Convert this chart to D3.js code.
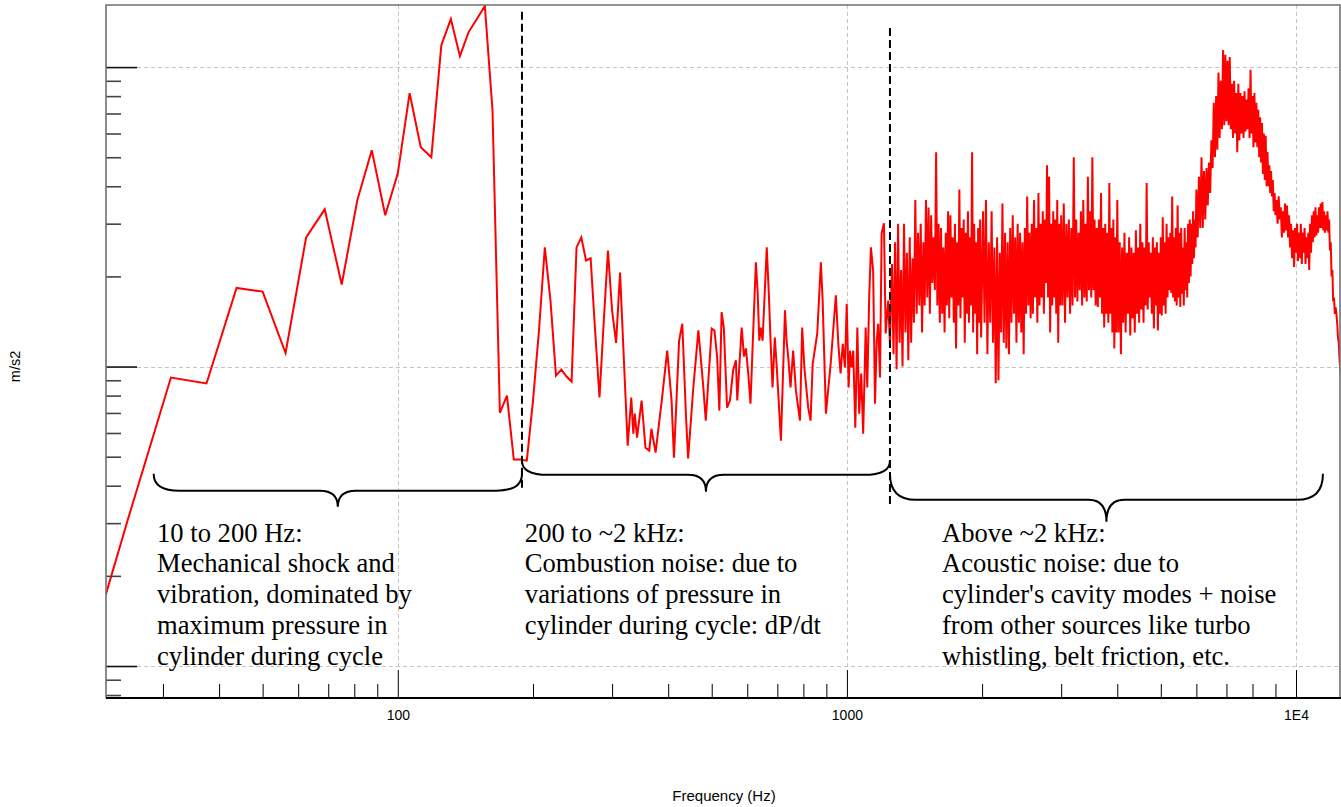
<!DOCTYPE html>
<html>
<head>
<meta charset="utf-8">
<script src="https://cdn.jsdelivr.net/npm/d3@7"></script>
<style>
  body { margin: 0; background: #fff; }
  svg { display: block; }
</style>
</head>
<body>
<div id="chart"></div>
<script>
/* global d3 */

// Spectrum, frequency in Hz
const freqHz = [
  18.75, 25, 31.25, 37.5, 43.75, 50, 56.25, 62.5, 68.75, 75,
  81.25, 87.5, 93.75, 100, 106.25, 112.5, 118.75, 125, 131.25, 137.5,
  143.75, 150, 156.25, 162.5, 168.75, 175, 181.25, 187.5, 193.75, 200,
  206.25, 212.5, 218.75, 225, 231.25, 237.5, 243.75, 250, 256.25, 262.5,
  268.75, 275, 281.25, 287.5, 293.75, 300, 306.25, 312.5, 318.75, 325,
  331, 334.5, 337, 341, 349, 356, 363, 367, 375, 387,
  398, 407, 412, 423, 430, 438, 443, 455, 467, 479,
  485, 500, 507, 514, 520, 526, 532, 541, 549, 558,
  566, 570, 583, 590, 596, 603, 610, 617, 627, 633,
  638, 643, 649, 663, 670, 676, 683, 691, 698, 713,
  728, 734, 740, 749, 759, 770, 786, 795, 804, 820,
  830, 839, 859, 875, 883, 898, 920, 945, 957, 968,
  979, 990, 999, 1009, 1016, 1024, 1033, 1044, 1055, 1065,
  1076, 1087, 1101, 1110, 1121, 1131, 1144, 1155, 1165, 1174,
  1185, 1195, 1209, 1220, 1236, 1247,
  1260, 1270, 1280, 1290, 1300, 1310, 1320, 1330, 1340, 1350,
  1360, 1370, 1380, 1390, 1400, 1410, 1420, 1430, 1440, 1450,
  1460, 1470, 1480, 1490, 1500, 1510, 1520, 1530, 1540, 1550,
  1560, 1570, 1580, 1590, 1600, 1610, 1620, 1630, 1640, 1650,
  1660, 1670, 1680, 1690, 1700, 1710, 1720, 1730, 1740, 1750,
  1760, 1770, 1780, 1790, 1800, 1810, 1820, 1830, 1840, 1850,
  1860, 1870, 1880, 1890, 1900, 1910, 1920, 1930, 1940, 1950,
  1960, 1970, 1980, 1990,
  2010, 2025, 2040, 2055, 2070, 2085, 2100, 2115, 2130, 2145,
  2160, 2175, 2190, 2205, 2220, 2235, 2250, 2265, 2280, 2295,
  2310, 2325, 2340, 2355, 2370, 2385, 2400, 2415, 2430, 2445,
  2460, 2475, 2490, 2505, 2520, 2535, 2550, 2565, 2580, 2595,
  2610, 2625, 2640, 2655, 2670, 2685, 2700, 2715, 2730, 2745,
  2760, 2775, 2790, 2805, 2820, 2835, 2850, 2865, 2880, 2895,
  2910, 2925, 2940, 2955, 2970, 2985, 3000,
  3020, 3040, 3060, 3080, 3100, 3120, 3140, 3160, 3180, 3200,
  3220, 3240, 3260, 3280, 3300, 3320, 3340, 3360, 3380, 3400,
  3420, 3440, 3460, 3480, 3500, 3520, 3540, 3560, 3580, 3600,
  3620, 3640, 3660, 3680, 3700, 3720, 3740, 3760, 3780, 3800,
  3820, 3840, 3860, 3880, 3900, 3920, 3940, 3960, 3980, 4000,
  4025, 4050, 4075, 4100, 4125, 4150, 4175, 4200, 4225, 4250,
  4275, 4300, 4325, 4350, 4375, 4400, 4425, 4450, 4475, 4500,
  4525, 4550, 4575, 4600, 4625, 4650, 4675, 4700, 4725, 4750,
  4775, 4800, 4825, 4850, 4875, 4900, 4925, 4950, 4975, 5000,
  5025, 5050, 5075, 5100, 5125, 5150, 5175, 5200, 5225, 5250,
  5275, 5300, 5325, 5350, 5375, 5400, 5425, 5450, 5475, 5500,
  5525, 5550, 5575, 5600, 5625, 5650, 5675, 5700, 5725, 5750,
  5775, 5800, 5825, 5850, 5875, 5900, 5925, 5950, 5975, 6000,
  6040, 6080, 6120, 6160, 6200, 6240, 6280, 6320, 6360, 6400,
  6440, 6480, 6520, 6560, 6600, 6640, 6680, 6720, 6760, 6800,
  6840, 6880, 6920, 6960, 7000, 7040, 7080, 7120, 7160, 7200,
  7240, 7280, 7320, 7360, 7400, 7440, 7480, 7520, 7560, 7600,
  7640, 7680, 7720, 7760, 7800, 7840, 7880, 7920, 7960, 8000,
  8040, 8080, 8120, 8160, 8200, 8240, 8280, 8320, 8360, 8400,
  8440, 8480, 8520, 8560, 8600, 8640, 8680, 8720, 8760, 8800,
  8840, 8880, 8920, 8960, 9000,
  9050, 9100, 9150, 9200, 9250, 9300, 9350, 9400, 9450, 9500,
  9550, 9600, 9650, 9700, 9750, 9800, 9850, 9900, 9950, 10000,
  10050, 10100, 10150, 10200, 10250, 10300, 10350, 10400, 10450, 10500,
  10550, 10600, 10650, 10700, 10750, 10800, 10850, 10900, 10950, 11000,
  11050, 11100, 11150, 11200, 11250, 11300, 11350, 11400, 11450, 11500,
  11550, 11600, 11650, 11700, 11750, 11800, 11850, 11900, 11950, 12000,
  12050, 12100, 12150, 12200, 12250, 12300, 12350, 12400, 12450, 12500,
  12550, 12600
]

// Acceleration, m/s2
const accel = [
  0.00702, 0.0305, 0.0919, 0.0878, 0.183, 0.178, 0.111, 0.270, 0.335, 0.188,
  0.359, 0.528, 0.320, 0.442, 0.818, 0.540, 0.500, 1.184, 1.447, 1.088,
  1.309, 1.447, 1.600, 0.718, 0.0701, 0.0800, 0.0489, 0.0489, 0.0485, 0.0770,
  0.132, 0.250, 0.166, 0.0933, 0.0977, 0.0926, 0.0891, 0.250, 0.270, 0.226,
  0.230, 0.132, 0.0788, 0.142, 0.244, 0.154, 0.120, 0.206, 0.105, 0.0544,
  0.0788, 0.0597, 0.0696, 0.0579, 0.0770, 0.0536, 0.0524, 0.0620, 0.0516, 0.0770,
  0.113, 0.0770, 0.0496, 0.122, 0.139, 0.0696, 0.0493, 0.0851, 0.132, 0.0851,
  0.0660, 0.134, 0.132, 0.108, 0.0712, 0.152, 0.135, 0.0729, 0.0770, 0.0970,
  0.105, 0.0770, 0.135, 0.108, 0.115, 0.0948, 0.0752, 0.119, 0.223, 0.176,
  0.122, 0.135, 0.122, 0.250, 0.176, 0.122, 0.0851, 0.125, 0.0993, 0.0565,
  0.154, 0.122, 0.108, 0.0851, 0.113, 0.0831, 0.0660, 0.135, 0.0993, 0.0729,
  0.0660, 0.102, 0.129, 0.223, 0.166, 0.0696, 0.102, 0.173, 0.119, 0.0948,
  0.119, 0.0993, 0.162, 0.0851, 0.113, 0.0993, 0.113, 0.0625, 0.135, 0.0696,
  0.0948, 0.0597, 0.135, 0.0851, 0.170, 0.250, 0.209, 0.0752, 0.122, 0.139,
  0.0919, 0.279, 0.301, 0.129, 0.166, 0.119,
  0.22, 0.11, 0.26, 0.098, 0.30, 0.12, 0.21, 0.10, 0.30, 0.13,
  0.24, 0.105, 0.27, 0.12, 0.23, 0.14, 0.36, 0.15, 0.28, 0.16,
  0.30, 0.13, 0.26, 0.16, 0.36, 0.17, 0.34, 0.15, 0.32, 0.19,
  0.27, 0.18, 0.52, 0.16, 0.30, 0.14, 0.29, 0.15, 0.25, 0.13,
  0.28, 0.16, 0.33, 0.145, 0.32, 0.17, 0.27, 0.14, 0.30, 0.115,
  0.26, 0.16, 0.39, 0.145, 0.29, 0.17, 0.31, 0.12, 0.28, 0.15,
  0.33, 0.14, 0.27, 0.16, 0.52, 0.13, 0.30, 0.15, 0.26, 0.11,
  0.29, 0.14, 0.31, 0.125,
  0.33, 0.14, 0.36, 0.11, 0.26, 0.14, 0.33, 0.12, 0.25, 0.088,
  0.27, 0.09, 0.24, 0.13, 0.35, 0.12, 0.28, 0.115, 0.26, 0.11,
  0.29, 0.14, 0.32, 0.15, 0.27, 0.12, 0.30, 0.14, 0.28, 0.13,
  0.26, 0.11, 0.29, 0.15, 0.37, 0.16, 0.28, 0.145, 0.30, 0.15,
  0.36, 0.17, 0.29, 0.14, 0.38, 0.16, 0.30, 0.17, 0.33, 0.15,
  0.31, 0.19, 0.47, 0.17, 0.43, 0.13, 0.30, 0.16, 0.33, 0.17,
  0.31, 0.15, 0.36, 0.12, 0.30, 0.16, 0.32,
  0.16, 0.35, 0.14, 0.30, 0.17, 0.31, 0.15, 0.29, 0.16, 0.50,
  0.17, 0.31, 0.165, 0.28, 0.18, 0.33, 0.16, 0.36, 0.17, 0.30,
  0.165, 0.43, 0.18, 0.33, 0.17, 0.50, 0.18, 0.31, 0.16, 0.29,
  0.158, 0.31, 0.17, 0.38, 0.15, 0.29, 0.135, 0.30, 0.15, 0.28,
  0.14, 0.41, 0.15, 0.29, 0.13, 0.31, 0.115, 0.27, 0.13, 0.36,
  0.13, 0.26, 0.11, 0.25, 0.14, 0.28, 0.13, 0.24, 0.15, 0.27,
  0.127, 0.25, 0.145, 0.24, 0.13, 0.285, 0.15, 0.25, 0.14, 0.30,
  0.155, 0.26, 0.14, 0.25, 0.16, 0.41, 0.155, 0.26, 0.17, 0.24,
  0.15, 0.27, 0.134, 0.25, 0.16, 0.26, 0.132, 0.24, 0.15, 0.27,
  0.148, 0.315, 0.16, 0.26, 0.15, 0.30, 0.17, 0.27, 0.18, 0.28,
  0.176, 0.37, 0.17, 0.27, 0.165, 0.29, 0.16, 0.345, 0.17, 0.28,
  0.158, 0.29, 0.175, 0.25, 0.16, 0.29, 0.18, 0.26, 0.17, 0.30,
  0.19, 0.31, 0.20, 0.30, 0.22, 0.33, 0.23, 0.31, 0.25, 0.39,
  0.27, 0.43, 0.29, 0.50, 0.29, 0.45, 0.31, 0.46, 0.345, 0.48,
  0.38, 0.57, 0.46, 0.76, 0.50, 0.80, 0.53, 0.96, 0.58, 0.90,
  0.62, 1.14, 0.64, 1.10, 0.66, 1.05, 0.64, 1.08, 0.62, 0.88,
  0.58, 0.90, 0.60, 0.82, 0.52, 0.88, 0.57, 0.82, 0.60, 0.80,
  0.58, 0.83, 0.61, 0.78, 0.62, 0.85, 0.58, 0.98, 0.60, 0.80,
  0.54, 0.82, 0.56, 0.76, 0.54, 0.72, 0.50, 0.68, 0.48, 0.65,
  0.44, 0.60, 0.42, 0.59, 0.40, 0.52, 0.40, 0.47, 0.38, 0.45,
  0.37, 0.42, 0.33, 0.38, 0.32,
  0.36, 0.30, 0.37, 0.31, 0.34, 0.27, 0.33, 0.28, 0.35, 0.285,
  0.345, 0.27, 0.32, 0.25, 0.30, 0.23, 0.285, 0.215, 0.29, 0.24,
  0.30, 0.225, 0.28, 0.23, 0.30, 0.22, 0.28, 0.24, 0.29, 0.22,
  0.27, 0.23, 0.28, 0.21, 0.30, 0.24, 0.32, 0.26, 0.33, 0.27,
  0.34, 0.274, 0.32, 0.28, 0.34, 0.29, 0.35, 0.29, 0.354, 0.285,
  0.33, 0.28, 0.32, 0.285, 0.33, 0.28, 0.31, 0.244, 0.26, 0.20,
  0.21, 0.165, 0.17, 0.15, 0.158, 0.15, 0.14, 0.125, 0.12, 0.105,
  0.098, 0.09
]

if (freqHz.length !== accel.length) throw new Error('length mismatch ' + freqHz.length + ' vs ' + accel.length)

// Axis ticks
const xMajorTicks = [100, 1000, 10000]
const xTickLabels = ['100', '1000', '1E4']
const yMajorTicks = [0.01, 0.1, 1]

// Band boundaries (dashed lines)
const boundaryHz = [189, 1247]
const boundaryTop = [1.53, 1.35]
const boundaryBottom = [0.0382, 0.0338]

// Braces under each band
const braceFromHz = [28.6, 189, 1247]
const braceToHz = [189, 1247, 11480]
const braceEndAccel = [0.0439, 0.0485, 0.0439]
const braceLineAccel = [0.0385, 0.0435, 0.0359]
const braceTipAccel = [0.0340, 0.0382, 0.0303]

// Notes
const noteHz = [29.1, 191.8, 1628]
const noteAccel = 0.026
const noteLines = [
  ['10 to 200 Hz:', 'Mechanical shock and', 'vibration, dominated by', 'maximum pressure in', 'cylinder during cycle'],
  ['200 to ~2 kHz:', 'Combustion noise: due to', 'variations of pressure in', 'cylinder during cycle: dP/dt'],
  ['Above ~2 kHz:', 'Acoustic noise: due to', "cylinder's cavity modes + noise", 'from other sources like turbo', 'whistling, belt friction, etc.']
]

// Our canvas
const width = 1341,
  height = 807,
  plotLeft = 106,
  plotRight = 1340,
  plotTop = 5,
  plotBottom = 698

const svg = d3.select('#chart')
  .append('svg')
  .attr('width', width)
  .attr('height', height)

svg.append('rect').attr('width', width).attr('height', height).attr('fill', '#fff')

const x = d3.scaleLog().domain([22.4, 12530]).range([plotLeft, plotRight])
const y = d3.scaleLog().domain([0.00782, 1.612]).range([plotBottom, plotTop])

// Grid
const grid = svg.append('g')
  .attr('stroke', '#c4c4c4')
  .attr('stroke-width', 1)
  .attr('stroke-dasharray', '4,3')
grid.selectAll('.hg')
  .data(yMajorTicks)
  .enter()
  .append('line')
  .attr('x1', plotLeft + 31)
  .attr('x2', plotRight)
  .attr('y1', d => Math.round(y(d)) + 0.5)
  .attr('y2', d => Math.round(y(d)) + 0.5)
grid.selectAll('.vg')
  .data(xMajorTicks)
  .enter()
  .append('line')
  .attr('x1', d => Math.round(x(d)) + 0.5)
  .attr('x2', d => Math.round(x(d)) + 0.5)
  .attr('y1', plotTop)
  .attr('y2', plotBottom - 28)

// Spectrum line
svg.append('clipPath').attr('id', 'clip')
  .append('rect')
  .attr('x', plotLeft).attr('y', plotTop)
  .attr('width', plotRight - plotLeft).attr('height', plotBottom - plotTop)

const points = freqHz.map((f, i) => [f, accel[i]])
const line = d3.line()
  .x(d => x(d[0]))
  .y(d => y(d[1]))

svg.append('path')
  .datum(points)
  .attr('clip-path', 'url(#clip)')
  .attr('fill', 'none')
  .attr('stroke', '#ff0000')
  .attr('stroke-width', 2)
  .attr('d', line)

// Dashed band boundaries
svg.selectAll('.boundary')
  .data(boundaryHz)
  .enter()
  .append('line')
  .attr('x1', d => x(d))
  .attr('x2', d => x(d))
  .attr('y1', (d, i) => y(boundaryTop[i]))
  .attr('y2', (d, i) => y(boundaryBottom[i]))
  .attr('stroke', '#000')
  .attr('stroke-width', 2)
  .attr('stroke-dasharray', '8,4')

// Braces
const bracePath = (i) => {
  const x0 = x(braceFromHz[i]), x1 = x(braceToHz[i])
  const ye = y(braceEndAccel[i]), yl = y(braceLineAccel[i]), yt = y(braceTipAccel[i])
  const xm = (x0 + x1) / 2
  const w = 26, wt = 18
  return `M${x0},${ye} Q${x0},${yl} ${x0 + w},${yl} L${xm - wt},${yl} Q${xm},${yl} ${xm},${yt}` +
    ` Q${xm},${yl} ${xm + wt},${yl} L${x1 - w},${yl} Q${x1},${yl} ${x1},${ye}`
}
svg.selectAll('.brace')
  .data(braceFromHz)
  .enter()
  .append('path')
  .attr('d', (d, i) => bracePath(i))
  .attr('fill', 'none')
  .attr('stroke', '#000')
  .attr('stroke-width', 2)

// Notes
noteLines.forEach((lines, i) => {
  const t = svg.append('text')
    .attr('x', x(noteHz[i]))
    .attr('y', y(noteAccel))
    .attr('font-family', '"Liberation Serif", "Times New Roman", serif')
    .attr('font-size', 26.6)
    .attr('fill', '#000')
  lines.forEach((s, j) => {
    t.append('tspan')
      .attr('x', x(noteHz[i]))
      .attr('dy', j === 0 ? 0 : 30.7)
      .text(s)
  })
})

// Axes
const xMinor = x.ticks().filter(d => !xMajorTicks.includes(d))
const yMinor = y.ticks().filter(d => !yMajorTicks.some(m => Math.abs(m - d) / m < 1e-6))

const xAxisMinor = svg.append('g')
  .attr('transform', `translate(0,${plotBottom})`)
  .call(d3.axisBottom(x).tickValues(xMinor).tickSize(-14).tickFormat(''))
const xAxisMajor = svg.append('g')
  .attr('transform', `translate(0,${plotBottom})`)
  .call(d3.axisBottom(x).tickValues(xMajorTicks).tickSize(-28).tickPadding(12)
    .tickFormat((d, i) => xTickLabels[i]))

const yAxisMinor = svg.append('g')
  .attr('transform', `translate(${plotLeft},0)`)
  .call(d3.axisRight(y).tickValues(yMinor).tickSize(15).tickFormat(''))
const yAxisMajor = svg.append('g')
  .attr('transform', `translate(${plotLeft},0)`)
  .call(d3.axisRight(y).tickValues(yMajorTicks).tickSize(31).tickFormat(''))

;[xAxisMinor, xAxisMajor, yAxisMinor, yAxisMajor].forEach(g => g.select('.domain').remove())
xAxisMinor.selectAll('line').attr('stroke', '#000')
xAxisMajor.selectAll('line').attr('stroke', '#000')
yAxisMinor.selectAll('line').attr('stroke', '#444').attr('stroke-width', 1.6)
yAxisMajor.selectAll('line').attr('stroke', '#111').attr('stroke-width', 1.6)
xAxisMajor.selectAll('text')
  .attr('font-family', '"Liberation Sans", Arial, sans-serif')
  .attr('font-size', 14)
  .attr('fill', '#000')

// Frame
svg.append('path')
  .attr('d', `M${plotLeft},${plotBottom} L${plotLeft},${plotTop} L${plotRight},${plotTop} L${plotRight},${plotBottom}`)
  .attr('fill', 'none')
  .attr('stroke', '#707070')
  .attr('stroke-width', 1.6)
svg.append('line')
  .attr('x1', plotLeft).attr('x2', plotRight + 1)
  .attr('y1', plotBottom).attr('y2', plotBottom)
  .attr('stroke', '#000')
  .attr('stroke-width', 2)

// Axis titles
svg.append('text')
  .attr('x', (plotLeft + plotRight) / 2 + 1)
  .attr('y', 801)
  .attr('text-anchor', 'middle')
  .attr('font-family', '"Liberation Sans", Arial, sans-serif')
  .attr('font-size', 15)
  .text('Frequency (Hz)')

svg.append('text')
  .attr('transform', `translate(20,${(plotTop + plotBottom) / 2 + 15}) rotate(-90)`)
  .attr('text-anchor', 'middle')
  .attr('font-family', '"Liberation Sans", Arial, sans-serif')
  .attr('font-size', 14.5)
  .text('m/s2')
</script>
</body>
</html>
